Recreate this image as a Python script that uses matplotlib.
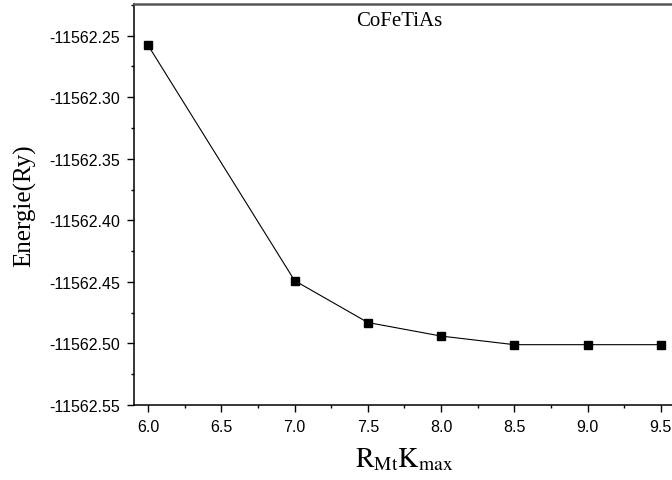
import matplotlib
matplotlib.use('Agg')
import matplotlib.pyplot as plt
from matplotlib.ticker import MultipleLocator, FormatStrFormatter

# RMT*Kmax convergence test for CoFeTiAs
rmt_kmax = [6.0, 7.0, 7.5, 8.0, 8.5, 9.0, 9.5]
energy = [-11562.258, -11562.449, -11562.483, -11562.494, -11562.501, -11562.501, -11562.501]

plt.rcParams['mathtext.fontset'] = 'stix'

fig = plt.figure(figsize=(6.72, 4.81), dpi=100)
ax = fig.add_axes([0.1987, 0.1559, 0.8064, 0.8327])

ax.plot(rmt_kmax, energy, color='black', lw=0.8, marker='s', ms=6,
        markerfacecolor='black', markeredgecolor='black')

ax.set_xlim(5.9, 9.6)
ax.set_ylim(-11562.55, -11562.2247)

ax.xaxis.set_major_locator(MultipleLocator(0.5))
ax.xaxis.set_minor_locator(MultipleLocator(0.25))
ax.yaxis.set_major_locator(MultipleLocator(0.05))
ax.yaxis.set_minor_locator(MultipleLocator(0.025))
ax.xaxis.set_major_formatter(FormatStrFormatter('%.1f'))
ax.yaxis.set_major_formatter(FormatStrFormatter('%.2f'))

ax.tick_params(which='major', direction='out', length=5, width=1,
               labelsize=11.5, pad=5)
ax.tick_params(which='minor', direction='out', length=2.5, width=1)
for lab in ax.get_xticklabels() + ax.get_yticklabels():
    lab.set_fontfamily('Liberation Sans')

ax.spines['left'].set_linewidth(1.1)
ax.spines['bottom'].set_linewidth(1.1)
ax.spines['top'].set_linewidth(1.8)
ax.spines['top'].set_color('#555555')
ax.spines['right'].set_visible(False)

ax.set_ylabel('Energie(Ry)', fontfamily='Liberation Serif', fontsize=18, labelpad=9)
ax.set_xlabel(r'$\mathrm{R_{Mt}K_{max}}$', fontsize=20, labelpad=7)

ax.text(0.49, 0.96, 'CoFeTiAs', transform=ax.transAxes, ha='center', va='center',
        fontfamily='Liberation Serif', fontsize=15)

fig.savefig('out.png', dpi=100)
